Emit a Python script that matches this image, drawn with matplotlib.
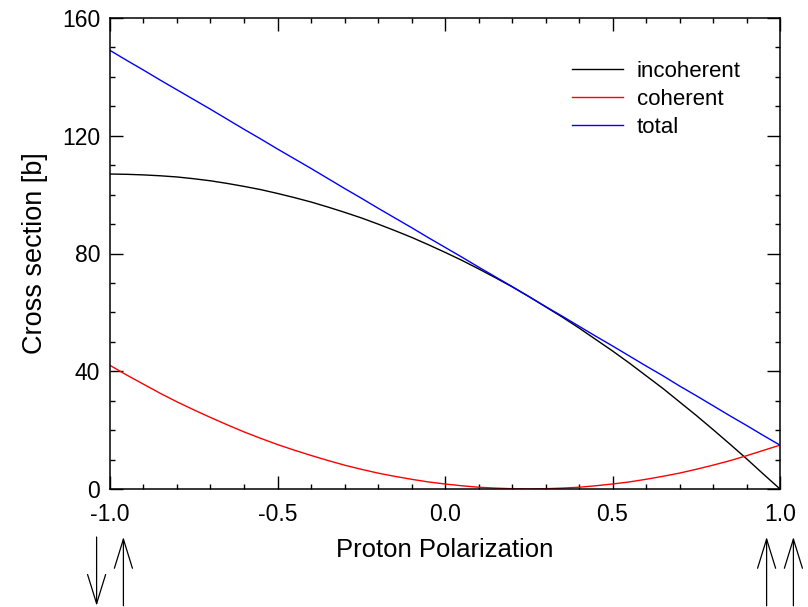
import numpy as np
import matplotlib
matplotlib.use("Agg")
import matplotlib.pyplot as plt
from matplotlib.ticker import MultipleLocator, FormatStrFormatter
from matplotlib.transforms import blended_transform_factory

plt.rcParams['font.family'] = ['Liberation Sans', 'DejaVu Sans']

# Proton polarization grid
polarization = [-1.00, -0.95, -0.90, -0.85, -0.80, -0.75, -0.70, -0.65, -0.60, -0.55,
                -0.50, -0.45, -0.40, -0.35, -0.30, -0.25, -0.20, -0.15, -0.10, -0.05,
                0.00, 0.05, 0.10, 0.15, 0.20, 0.25, 0.30, 0.35, 0.40, 0.45,
                0.50, 0.55, 0.60, 0.65, 0.70, 0.75, 0.80, 0.85, 0.90, 0.95, 1.00]

# Cross sections in barn
incoherent = [107.0, 106.9, 106.7, 106.4, 106.0, 105.4, 104.7, 103.8, 102.8, 101.7,
              100.4, 99.0, 97.5, 95.8, 94.0, 92.1, 90.0, 87.8, 85.5, 83.0,
              80.4, 77.7, 74.8, 71.8, 68.7, 65.4, 61.9, 58.4, 54.7, 50.8,
              46.9, 42.8, 38.5, 34.2, 29.6, 25.0, 20.2, 15.3, 10.3, 5.1, 0.0]
coherent = [42.0, 38.7, 35.6, 32.5, 29.6, 26.9, 24.3, 21.8, 19.4, 17.2,
            15.1, 13.2, 11.4, 9.7, 8.1, 6.7, 5.4, 4.3, 3.3, 2.4,
            1.7, 1.1, 0.6, 0.3, 0.1, 0.0, 0.1, 0.3, 0.6, 1.1,
            1.7, 2.4, 3.3, 4.3, 5.4, 6.7, 8.1, 9.6, 11.3, 13.1, 14.9]
total = [149.0, 145.6, 142.3, 138.9, 135.6, 132.3, 129.0, 125.6, 122.2, 118.9,
         115.5, 112.2, 108.9, 105.5, 102.1, 98.8, 95.4, 92.1, 88.8, 85.4,
         82.1, 78.8, 75.4, 72.1, 68.8, 65.4, 62.0, 58.7, 55.3, 51.9,
         48.6, 45.2, 41.8, 38.5, 35.0, 31.7, 28.3, 24.9, 21.6, 18.2, 14.9]

labels = ["incoherent", "coherent", "total"]
colors = ["black", "red", "blue"]

fig = plt.figure(figsize=(8.08, 6.07), dpi=100)
ax = fig.add_axes([110 / 808, 1 - 489 / 607, 670 / 808, 471 / 607])

for y, lab, c in zip([incoherent, coherent, total], labels, colors):
    ax.plot(polarization, y, color=c, lw=1.0, label=lab)

ax.set_xlim(-1, 1)
ax.set_ylim(0, 160)
ax.xaxis.set_major_locator(MultipleLocator(0.5))
ax.xaxis.set_minor_locator(MultipleLocator(0.1))
ax.xaxis.set_major_formatter(FormatStrFormatter('%.1f'))
ax.yaxis.set_major_locator(MultipleLocator(40))
ax.yaxis.set_minor_locator(MultipleLocator(10))
ax.tick_params(which='both', direction='in', top=True, right=True, width=1.0)
ax.tick_params(which='major', length=9.5, labelsize=16.5)
ax.tick_params(which='minor', length=3.6)
ax.tick_params(axis='x', which='major', pad=10)
ax.tick_params(axis='y', which='major', pad=7)
for s in ax.spines.values():
    s.set_linewidth(1.1)

ax.set_xlabel("Proton Polarization", fontsize=18.5, labelpad=9)
ax.set_ylabel("Cross section [b]", fontsize=19.5, labelpad=10)

ax.legend(loc='upper right', bbox_to_anchor=(0.971, 0.952), frameon=False,
          fontsize=16, handlelength=2.3, handletextpad=0.6, labelspacing=0.33)

# Spin direction arrows below the axis
tr = blended_transform_factory(ax.transData, fig.transFigure)
y_top = 1 - 537 / 607
y_bot = 0.002
style = "->, head_length=21, head_width=6.5"
spin_arrows = [(-1.04, y_top, y_bot), (-0.96, y_bot, y_top),
               (0.96, y_bot, y_top), (1.04, y_bot, y_top)]
for xa, y0, y1 in spin_arrows:
    ax.annotate("", xy=(xa, y1), xycoords=tr, xytext=(xa, y0), textcoords=tr,
                annotation_clip=False,
                arrowprops=dict(arrowstyle=style, mutation_scale=1, lw=0.9,
                                color='black', shrinkA=0, shrinkB=0))

fig.savefig("out.png", dpi=100)
